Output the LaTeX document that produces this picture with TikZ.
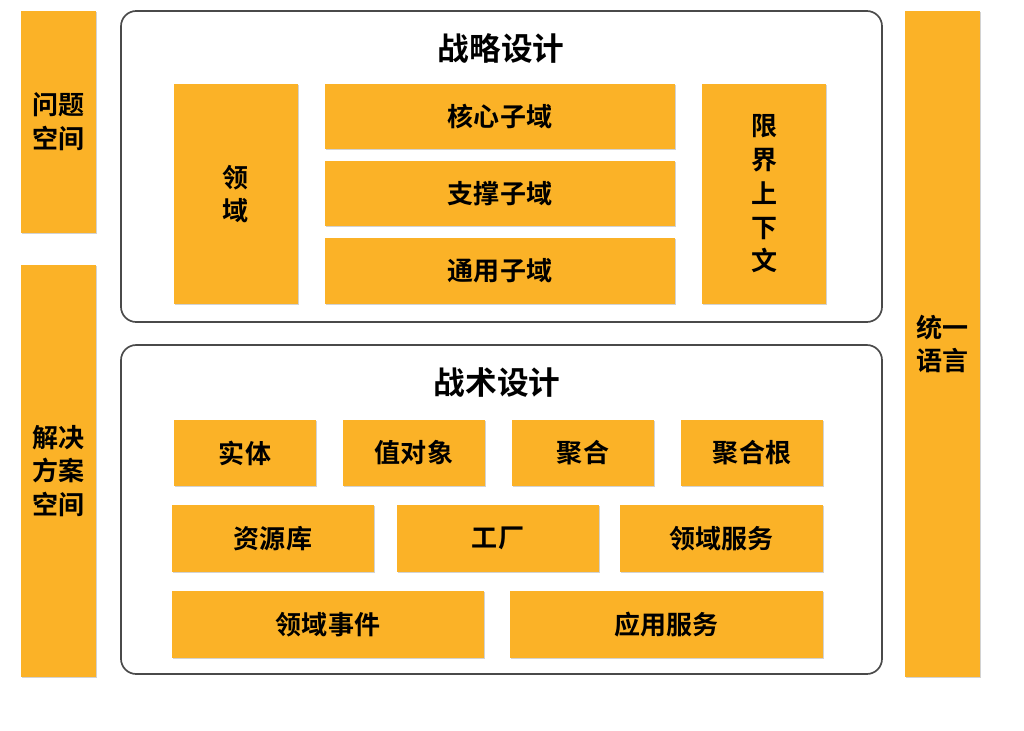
\documentclass[tikz,border=0pt]{standalone}
\usepackage{fontspec}
\setmainfont{Noto Sans CJK SC}[BoldFont={Noto Sans CJK SC Bold}]
\usetikzlibrary{shadows}
\definecolor{ddorange}{HTML}{FBB227}
\definecolor{ddframe}{HTML}{4A4A4A}
\tikzset{
  sz/.style 2 args={minimum width=#1*0.025cm, minimum height=#2*0.025cm},
  blk/.style={fill=ddorange, draw=none, inner sep=0pt, align=center,
    font=\fontsize{18.5}{24}\selectfont\bfseries,
    drop shadow={shadow xshift=0.4pt, shadow yshift=-0.8pt, opacity=0.35}},
  frame/.style={draw=ddframe, line width=1.2pt, rounded corners=0.38cm, inner sep=0pt},
  ttl/.style={font=\fontsize{22.5}{28}\selectfont\bfseries}
}
\begin{document}
\begin{tikzpicture}[x=0.025cm, y=-0.025cm]
        \useasboundingbox[fill=white] (0,0) rectangle (1024,730);
        % side bars
        \node[blk, sz={75}{222}] (probspace) at (58.5,122) {问题\\空间};
        \node[blk, sz={75}{412}] (solspace) at (58.5,471) {解决\\方案\\空间};
        \node[blk, sz={75}{666}] (ubilang) at (942.5,344) {统一\\语言};

        % strategic design
        \node[frame, sz={761}{311}] (strategic) at (501.5,166.5) {};
        \node[ttl] (strattitle) at (501,48) {战略设计};
        \node[blk, sz={124}{220}] (domain) at (236,194) {领\\域};
        \node[blk, sz={350}{65}] (core) at (500,116.5) {核心子域};
        \node[blk, sz={350}{65}] (support) at (500,193.5) {支撑子域};
        \node[blk, sz={350}{66}] (generic) at (500,271) {通用子域};
        \node[blk, sz={124}{220}] (bctx) at (764,194) {限\\界\\上\\下\\文};

        % tactical design
        \node[frame, sz={761}{329}] (tactical) at (501.5,509.5) {};
        \node[ttl] (tacttitle) at (497,383) {战术设计};
        \node[blk, sz={142}{66}] (entity) at (245,453) {实体};
        \node[blk, sz={142}{66}] (valobj) at (414,453) {值对象};
        \node[blk, sz={142}{66}] (aggr) at (583,453) {聚合};
        \node[blk, sz={142}{66}] (aggrroot) at (752,453) {聚合根};
        \node[blk, sz={202}{67}] (repo) at (273,538.5) {资源库};
        \node[blk, sz={202}{67}] (factory) at (498,538.5) {工厂};
        \node[blk, sz={203}{67}] (domsvc) at (721.5,538.5) {领域服务};
        \node[blk, sz={312}{67}] (domevt) at (328,624.5) {领域事件};
        \node[blk, sz={313}{67}] (appsvc) at (666.5,624.5) {应用服务};
\end{tikzpicture}
\end{document}
